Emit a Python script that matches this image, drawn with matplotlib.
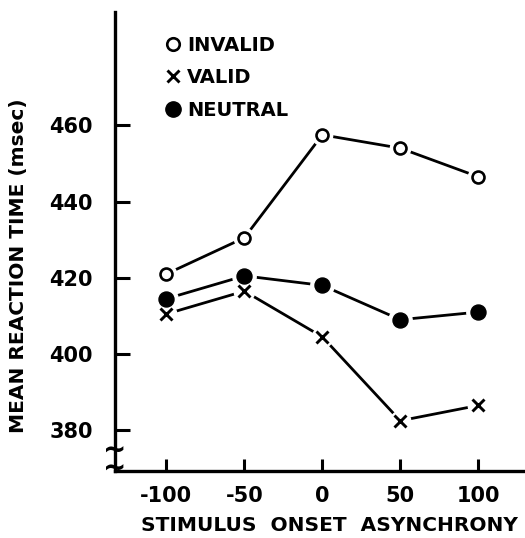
#!/usr/bin/env python3
# -*- coding: utf-8 -*-
"""Mean reaction time vs stimulus onset asynchrony, for three cue types."""

import matplotlib
matplotlib.use("Agg")
import matplotlib.pyplot as plt
from matplotlib.lines import Line2D

soa = [-100, -50, 0, 50, 100]

invalid = [421, 430.5, 457.5, 454, 446.5]
valid = [410.5, 416.5, 404.5, 382.5, 386.5]
neutral = [414.5, 420.5, 418, 409, 411]

y_ticks = [380, 400, 420, 440, 460]
x_ticks = [-100, -50, 0, 50, 100]
x_tick_labels = ["-100", "-50", "0", "50", "100"]

INK = "black"
plt.rcParams["font.family"] = ["DejaVu Sans"]
plt.rcParams["font.weight"] = "bold"

fig = plt.figure(figsize=(5.25, 5.38), dpi=100)
ax = fig.add_axes([0.219, 0.1245, 0.781, 0.853])

lw = 2.0


def series(y, marker, size, face, mew):
    ax.plot(soa, y, color=INK, lw=lw, zorder=2)
    # little white gap round each point, like the hand drawn original
    ax.plot(soa, y, ls="none", marker="o", ms=size + 6, mfc="white",
            mec="white", zorder=3)
    ax.plot(soa, y, ls="none", marker=marker, ms=size, mfc=face,
            mec=INK, mew=mew, zorder=4)


series(invalid, "o", 8.6, "white", 1.9)
series(valid, "x", 8.8, INK, 2.1)
series(neutral, "o", 10.8, INK, 1.0)

ax.set_xlim(-133, 130)
ax.set_ylim(369.3, 489.7)

for s in ["top", "right"]:
    ax.spines[s].set_visible(False)
for s in ["left", "bottom"]:
    ax.spines[s].set_linewidth(2.4)

ax.set_yticks(y_ticks)
ax.set_xticks(x_ticks)
ax.set_xticklabels(x_tick_labels)
ax.tick_params(axis="y", direction="in", length=11, width=2.2, pad=16,
               labelsize=15)
ax.tick_params(axis="x", direction="in", length=9, width=2.2, pad=11,
               labelsize=15)

ax.set_ylabel("MEAN REACTION TIME (msec)", fontsize=14.5,
              fontweight="bold")
ax.yaxis.set_label_coords(-0.212, 0.447)
ax.set_xlabel("STIMULUS  ONSET  ASYNCHRONY", fontsize=14.5,
              fontweight="bold")
ax.xaxis.set_label_coords(0.524, -0.098)

# axis break mark on the y axis (two stacked tildes)
ax.text(0, 0.024, "~\n~", transform=ax.transAxes, fontsize=20,
        fontweight="bold", ha="center", va="center", linespacing=0.55,
        clip_on=False)

handles = [
    Line2D([], [], ls="none", marker="o", ms=9, mfc="white", mec=INK,
           mew=1.9),
    Line2D([], [], ls="none", marker="x", ms=9, mec=INK, mew=2.1),
    Line2D([], [], ls="none", marker="o", ms=11, mfc=INK, mec=INK),
]
ax.legend(handles, ["INVALID", "VALID", "NEUTRAL"], loc="upper left",
          bbox_to_anchor=(0.1, 0.97), frameon=False, handlelength=0.8,
          handletextpad=0.3, labelspacing=0.7, borderpad=0,
          prop={"size": 14, "weight": "bold"})

fig.savefig("out.png", dpi=100)
